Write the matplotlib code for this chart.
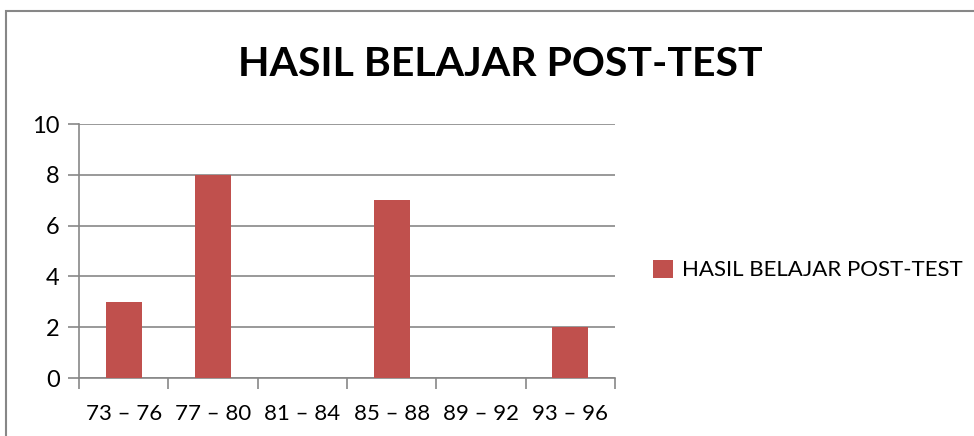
import numpy as np
import matplotlib.pyplot as plt
from matplotlib.patches import Rectangle

kategori = ["73 – 76", "77 – 80", "81 – 84", "85 – 88", "89 – 92", "93 – 96"]
nilai = [3, 8, 0, 7, 0, 2]
judul = "HASIL BELAJAR POST-TEST"

plt.rcParams['font.family'] = ['Lato', 'DejaVu Sans']
merah = '#C0504D'
abu = '#878787'

fig = plt.figure(figsize=(9.74, 4.36), dpi=100)
ax = fig.add_axes([79/974, 1-378/436, (615-79)/974, (378-124)/436])

x = np.arange(len(kategori))
ax.bar(x, nilai, width=0.4, color=merah, label=judul, zorder=3)

ax.set_xlim(-0.5, len(kategori)-0.5)
ax.set_ylim(0, 10)
ax.set_yticks(np.arange(0, 11, 2))
ax.yaxis.grid(True, color=abu, linewidth=1.2, zorder=0)

ax.set_xticks(x)
ax.set_xticklabels(kategori, fontsize=16)
ax.set_xticks(np.arange(-0.5, len(kategori)), minor=True)
ax.tick_params(axis='x', which='major', length=0, pad=19)
ax.tick_params(axis='x', which='minor', length=8, width=1.2, color=abu, direction='out')
ax.tick_params(axis='y', length=8, width=1.2, color=abu, labelsize=17, pad=6)

for s in ['top', 'right']:
    ax.spines[s].set_visible(False)
for s in ['left', 'bottom']:
    ax.spines[s].set_color(abu)
    ax.spines[s].set_linewidth(1.2)

fig.text(0.514, 1-65/436, judul, fontsize=29.5, fontweight='bold', ha='center', va='center')

fig.legend(loc='center left', bbox_to_anchor=(653/974, 1-270/436), frameon=False,
           fontsize=16, handlelength=0.9, handleheight=0.9, handletextpad=0.4,
           borderpad=0, borderaxespad=0)

fig.patches.append(Rectangle((5.5/974, -0.1), 1.2, 1.1 - 11.5/436, transform=fig.transFigure,
                             fill=False, edgecolor=abu, linewidth=1.5))

fig.savefig('out.png', dpi=100)
